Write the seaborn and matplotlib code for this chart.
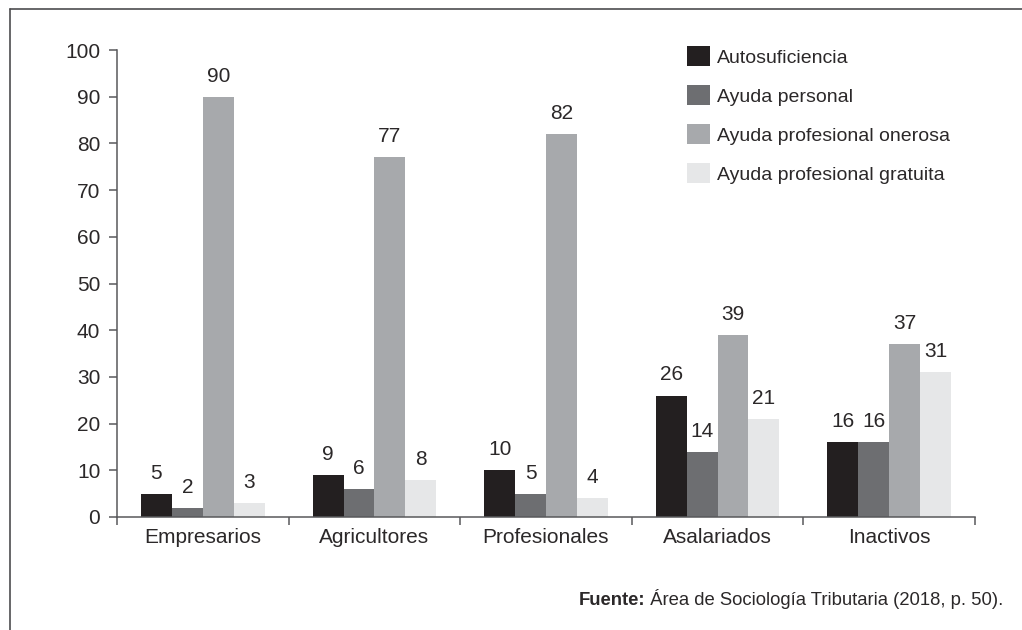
import matplotlib
matplotlib.use("Agg")
import matplotlib.pyplot as plt
from matplotlib.lines import Line2D
import seaborn as sns
import pandas as pd

# Data
categories = ["Empresarios", "Agricultores", "Profesionales", "Asalariados", "Inactivos"]
series = ["Autosuficiencia", "Ayuda personal", "Ayuda profesional onerosa",
          "Ayuda profesional gratuita"]
autosuficiencia = [5, 9, 10, 26, 16]
ayuda_personal = [2, 6, 5, 14, 16]
ayuda_onerosa = [90, 77, 82, 39, 37]
ayuda_gratuita = [3, 8, 4, 21, 31]
colors = ["#231f20", "#6d6e71", "#a7a9ac", "#e6e7e8"]
source_bold = "Fuente:"
source_text = " Área de Sociología Tributaria (2018, p. 50)."

values = [autosuficiencia, ayuda_personal, ayuda_onerosa, ayuda_gratuita]
rows = []
for s, vals in zip(series, values):
    for c, v in zip(categories, vals):
        rows.append({"categoria": c, "serie": s, "valor": v})
df = pd.DataFrame(rows)

sns.set_theme(style="white")
plt.rcParams["font.family"] = ["Liberation Sans", "DejaVu Sans"]
text_color = "#2b2829"
axis_color = "#58595b"

fig = plt.figure(figsize=(10.22, 6.30), dpi=100)
ax = fig.add_axes([117 / 1022, 1 - 517 / 630, (975 - 117) / 1022, (517 - 50) / 630])

sns.barplot(data=df, x="categoria", y="valor", hue="serie", order=categories,
            hue_order=series, palette=colors, width=0.72, saturation=1,
            linewidth=0, ax=ax)

for cont in ax.containers:
    ax.bar_label(cont, fmt="%d", padding=8, fontsize=15, color=text_color)

ax.set_xlim(-0.5, len(categories) - 0.5)
ax.set_ylim(0, 100)
ax.set_yticks(range(0, 101, 10))
ax.set_xlabel("")
ax.set_ylabel("")

for side in ["top", "right"]:
    ax.spines[side].set_visible(False)
for side in ["left", "bottom"]:
    ax.spines[side].set_color(axis_color)
    ax.spines[side].set_linewidth(1.1)

ax.tick_params(axis="y", which="both", left=True, length=6, width=1.1,
               color=axis_color, labelsize=15, labelcolor=text_color, pad=6)
# x ticks sit on the boundaries between groups; labels stay centered
ax.set_xticks([i - 0.5 for i in range(len(categories) + 1)], minor=True)
ax.tick_params(axis="x", which="minor", bottom=True, length=6, width=1.1,
               color=axis_color)
ax.tick_params(axis="x", which="major", bottom=False, length=0,
               labelsize=15, labelcolor=text_color, pad=8)

handles, labels = ax.get_legend_handles_labels()
leg = ax.legend(handles, labels, loc="upper left",
                bbox_to_anchor=(687 / 1022, 1 - 46 / 630),
                bbox_transform=fig.transFigure, frameon=False, fontsize=14,
                handlelength=1.2, handleheight=1.2, handletextpad=0.35,
                labelspacing=0.95, borderpad=0, borderaxespad=0)
for t in leg.get_texts():
    t.set_color(text_color)

# Source note, right aligned with bold prefix
src = fig.text(1003 / 1022, 1 - 605 / 630, source_text, ha="right", va="baseline",
               fontsize=13.3, color=text_color)
fig.canvas.draw()
bb = src.get_window_extent()
fig.text(bb.x0 / fig.bbox.width, 1 - 605 / 630, source_bold, ha="right",
         va="baseline", fontsize=13.3, fontweight="bold", color=text_color)

# Frame lines along the top and left of the figure
x0 = 10 / 1022
y0 = 1 - 9 / 630
fig.add_artist(Line2D([x0, 1], [y0, y0], transform=fig.transFigure,
                      color="#4d4d4f", linewidth=1.2))
fig.add_artist(Line2D([x0, x0], [y0, 0], transform=fig.transFigure,
                      color="#4d4d4f", linewidth=1.2))

fig.savefig("out.png", dpi=100)
